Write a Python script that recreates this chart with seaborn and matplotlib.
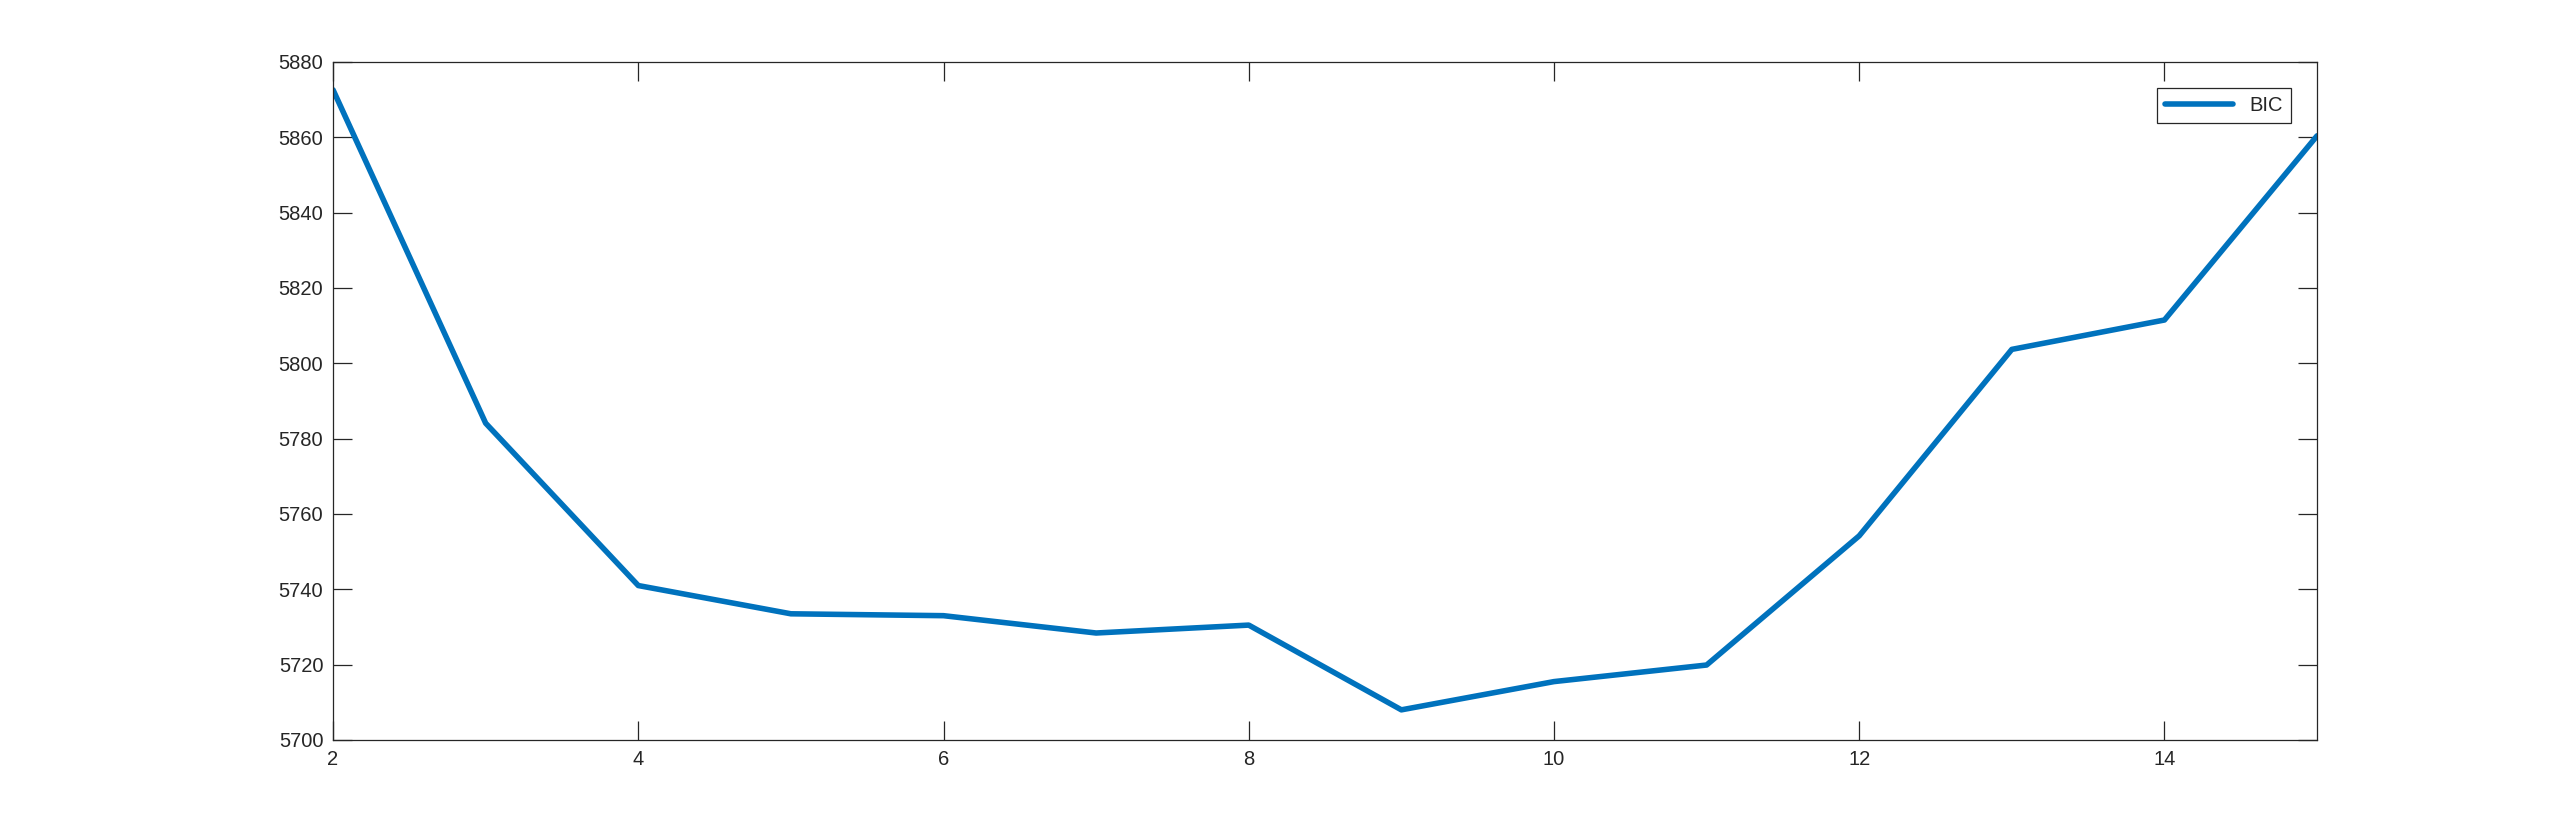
import matplotlib
matplotlib.use("Agg")
import matplotlib.pyplot as plt
import seaborn as sns
import pandas as pd

# number of clusters vs BIC score
clusters = [2, 3, 4, 5, 6, 7, 8, 9, 10, 11, 12, 13, 14, 15]
bic = [5872.6, 5784.1, 5741.0, 5733.5, 5733.0, 5728.4, 5730.5,
       5708.0, 5715.5, 5719.9, 5754.2, 5803.7, 5811.5, 5860.4]
x_ticks = [2, 4, 6, 8, 10, 12, 14]
y_ticks = [5700, 5720, 5740, 5760, 5780, 5800, 5820, 5840, 5860, 5880]

df = pd.DataFrame({"k": clusters, "BIC": bic})

sns.set_style("ticks")
plt.rcParams["font.family"] = ["Liberation Sans", "DejaVu Sans"]

dark = "#262626"

fig = plt.figure(figsize=(25.6, 8.32), dpi=100)
ax = fig.add_axes([0.1301, 0.1106, 0.775, 0.8149])

sns.lineplot(data=df, x="k", y="BIC", color="#0072BD", linewidth=4,
             label="BIC", ax=ax)

ax.set_xlim(2, 15)
ax.set_ylim(5700, 5880)
ax.set_xticks(x_ticks)
ax.set_yticks(y_ticks)
ax.set_xlabel("")
ax.set_ylabel("")

for s in ax.spines.values():
    s.set_visible(True)
    s.set_linewidth(0.9)
    s.set_color(dark)

ax.tick_params(axis="both", which="major", direction="in", length=13.5,
               width=0.9, color=dark, labelcolor=dark, labelsize=14.5,
               top=True, right=True, pad=7)

leg = ax.legend(loc="upper right", fontsize=14.5, frameon=True,
                fancybox=False, framealpha=1, edgecolor=dark,
                handlelength=3.4, borderaxespad=1.3, borderpad=0.4)
leg.get_frame().set_linewidth(0.9)

fig.savefig("out.png", dpi=100)
